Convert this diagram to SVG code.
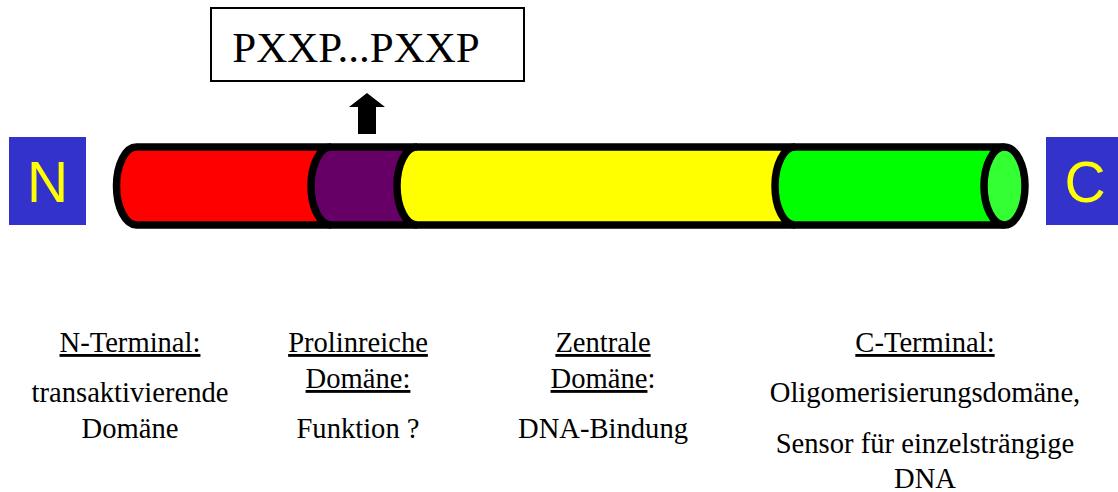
<svg xmlns="http://www.w3.org/2000/svg" width="1118" height="492" viewBox="0 0 1118 492">
<style>
.term{fill:#3333CC}
.termt{font-family:"Liberation Sans",Arial,sans-serif;font-size:57px;fill:#FFFF00;text-anchor:middle}
.lbl{font-family:"Liberation Serif","Times New Roman",serif;font-size:28.6px;fill:#000;text-anchor:middle}
.u{text-decoration:underline}
.out{fill:none;stroke:#000;stroke-width:7.5;stroke-linejoin:round}
</style>
<rect width="1118" height="492" fill="#fff"/>
<g id="n-terminus">
<rect class="term" x="9" y="137" width="77" height="88"/>
<text class="termt" x="47.5" y="202">N</text>
</g>
<g id="c-terminus">
<rect class="term" x="1046" y="137" width="77" height="88"/>
<text class="termt" x="1085" y="202">C</text>
</g>
<g id="protein">
<path id="seg-red" d="M136.5,147 L331,147 L331,225 L136.5,225 A20 39 0 0 1 136.5,147 Z" fill="#FF0000"/>
<path id="seg-purple" d="M331,147 L417,147 L417,225 L331,225 A20 39 0 0 1 331,147 Z" fill="#660066"/>
<path id="seg-yellow" d="M417,147 L795,147 L795,225 L417,225 A20 39 0 0 1 417,147 Z" fill="#FFFF00"/>
<path id="seg-green" d="M795,147 L1004.5,147 L1004.5,225 L795,225 A20 39 0 0 1 795,147 Z" fill="#00FF00"/>
<path class="out" d="M1004.5,147 H136.5 A20 39 0 0 0 136.5,225 H1004.5"/>
<path class="out" d="M331,225 A20 39 0 0 1 331,147"/>
<path class="out" d="M417,225 A20 39 0 0 1 417,147"/>
<path class="out" d="M795,225 A20 39 0 0 1 795,147"/>
<ellipse cx="1004.5" cy="186" rx="20.5" ry="39" fill="#33FF33" stroke="#000" stroke-width="7.5"/>
</g>
<g id="motif">
<rect x="211" y="8" width="313" height="73" fill="#fff" stroke="#000" stroke-width="2"/>
<text x="356" y="62" font-family="'Liberation Serif','Times New Roman',serif" font-size="43" text-anchor="middle" fill="#000">PXXP...PXXP</text>
</g>
<g id="connectors">
<polygon points="367,93 385,107 376,107 376,134 358,134 358,107 349,107" fill="#000"/>
</g>
<g id="label-n">
<text class="lbl u" x="130" y="352">N-Terminal:</text>
<text class="lbl" x="130" y="402">transaktivierende</text>
<text class="lbl" x="130" y="438">Domäne</text>
</g>
<g id="label-prolin">
<text class="lbl u" x="358" y="352">Prolinreiche</text>
<text class="lbl u" x="358" y="388">Domäne:</text>
<text class="lbl" x="358" y="438">Funktion ?</text>
</g>
<g id="label-zentral">
<text class="lbl u" x="603" y="352">Zentrale</text>
<text class="lbl" x="603" y="388"><tspan class="u">Domäne</tspan>:</text>
<text class="lbl" x="603" y="438">DNA-Bindung</text>
</g>
<g id="label-c">
<text class="lbl u" x="925" y="352">C-Terminal:</text>
<text class="lbl" x="925" y="402">Oligomerisierungsdomäne,</text>
<text class="lbl" x="925" y="453">Sensor für einzelsträngige</text>
<text class="lbl" x="925" y="488">DNA</text>
</g>
</svg>
